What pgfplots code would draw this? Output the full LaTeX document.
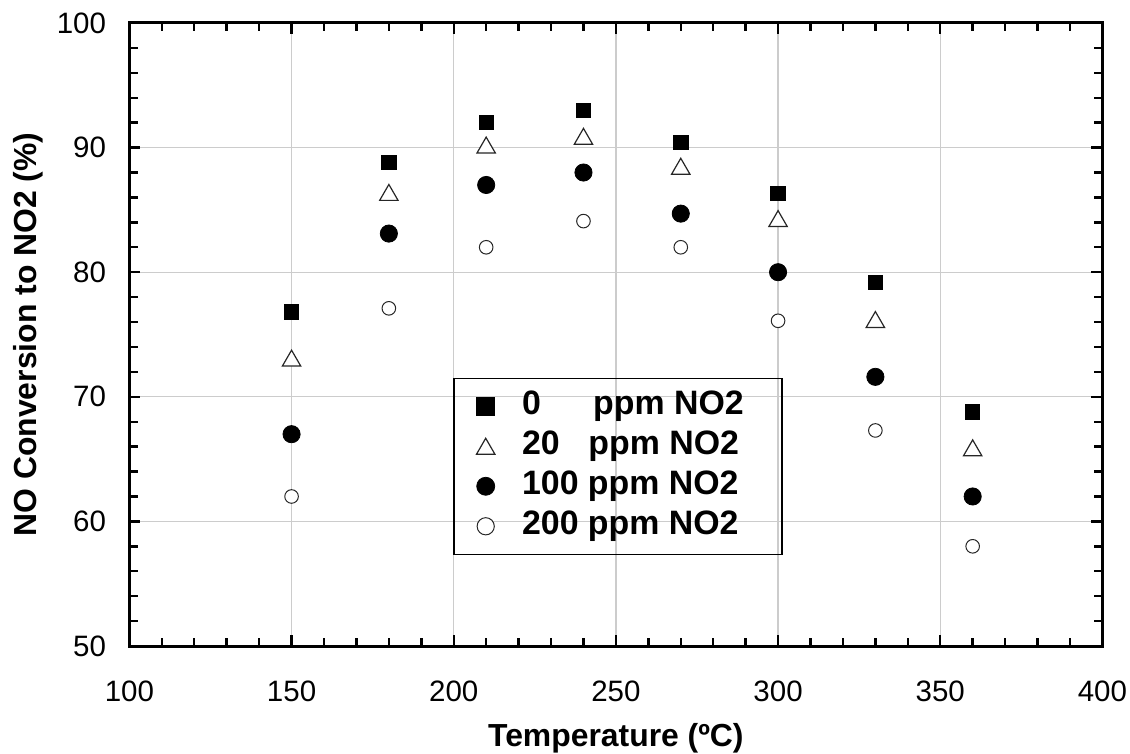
\documentclass[border=0pt]{standalone}
\usepackage{pgfplots}
\pgfplotsset{compat=1.18}
\usepackage{fontspec}
\setmainfont{Liberation Sans}
\definecolor{gridgray}{RGB}{204,204,204}
\pgfplotsset{limg/.style={legend image code/.code={\path (-15.5bp,0) (17.85bp,0); \draw[##1, mark size=#1] plot coordinates {(0,0)};}}}
\begin{document}
\begin{tikzpicture}
\useasboundingbox (-64.7bp,-54bp) rectangle (500.3bp,323bp);
\begin{axis}[
  scale only axis, width=486.5bp, height=311.5bp,
  at={(0,0)}, anchor=south west,
  xmin=100, xmax=400, ymin=50, ymax=100,
  xtick={100,150,...,400}, ytick={50,60,...,100},
  minor x tick num=4, minor y tick num=4,
  tick align=inside,
  axis line style={line width=1.5bp, black},
  every tick/.style={black, line width=1.2bp},
  major tick length=5.5bp, minor tick length=4.2bp,
  grid=major, major grid style={gridgray, line width=0.6bp},
  /pgf/number format/assume math mode=true,
  tick label style={font=\fontsize{14.8}{17}\selectfont},
  xticklabel style={yshift=-14bp},
  yticklabel style={xshift=-8.2bp},
  label style={font=\bfseries\fontsize{16}{19}\selectfont},
  xlabel={Temperature (ºC)},
  ylabel={NO Conversion to NO2 (\%)},
  xlabel style={at={(axis description cs:0.5,-0.1616)}, anchor=base},
  ylabel style={at={(axis description cs:-0.0953,0.5)}, anchor=base},
  legend cell align=left,
  legend style={
    at={(axis description cs:0.3329,0.1461)}, anchor=south west,
    draw=black, line width=0.7bp, fill=none,
    inner xsep=0pt, inner ysep=4bp, row sep=0pt,
    font=\bfseries\fontsize{17}{20}\selectfont,
    nodes={inner sep=0pt, text height=14bp, text depth=6bp, anchor=west},
  },
]
\addplot[only marks, mark=square*, mark size=3.6bp, mark options={fill=black, draw=black, line width=0.4bp}, limg=4.5bp]
  coordinates {(150,76.8) (180,88.8) (210,92.0) (240,93.0) (270,90.4) (300,86.3) (330,79.2) (360,68.8)};
\addplot[only marks, mark=triangle*, mark size=5.3bp, mark options={fill=white, draw=black!85, line width=0.6bp, yshift=-1.3bp}, limg=5.3bp]
  coordinates {(150,73.1) (180,86.4) (210,90.2) (240,90.9) (270,88.5) (300,84.3) (330,76.2) (360,65.9)};
\addplot[only marks, mark=*, mark size=4.3bp, mark options={fill=black, draw=black, line width=0.4bp}, limg=4.5bp]
  coordinates {(150,67.0) (180,83.1) (210,87.0) (240,88.0) (270,84.7) (300,80.0) (330,71.6) (360,62.0)};
\addplot[only marks, mark=*, mark size=3.4bp, mark options={fill=white, draw=black!85, line width=0.5bp}, limg=4.3bp]
  coordinates {(150,62.0) (180,77.1) (210,82.0) (240,84.1) (270,82.0) (300,76.1) (330,67.3) (360,58.0)};
\legend{\makebox[130bp][l]{\makebox[2.1em][l]{0}ppm NO2},
        \makebox[130bp][l]{\makebox[1.96em][l]{20}ppm NO2},
        \makebox[130bp][l]{100 ppm NO2},
        \makebox[130bp][l]{200 ppm NO2}}
\end{axis}
\end{tikzpicture}
\end{document}
